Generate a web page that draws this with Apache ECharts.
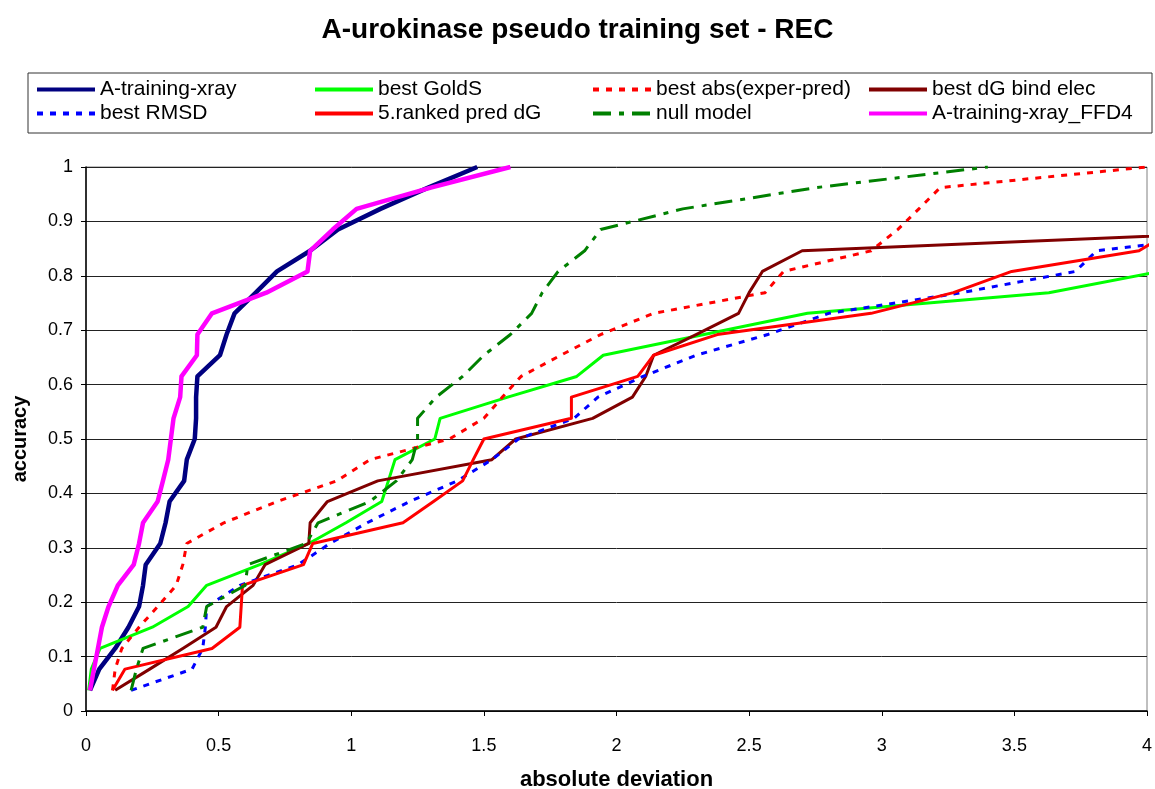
<!DOCTYPE html>
<html>
<head>
<meta charset="utf-8">
<title>A-urokinase pseudo training set - REC</title>
<script src="https://cdn.jsdelivr.net/npm/echarts@6/dist/echarts.min.js"></script>
<style>
  html, body { margin: 0; padding: 0; background: #ffffff; }
  #chart { width: 1155px; height: 789px; }
</style>
</head>
<body>
<div id="chart"></div>
<script>
// Cumulative accuracy levels (fraction of the 26 ligands), shared by every curve.
const ACCURACY = [0.038, 0.077, 0.115, 0.154, 0.192, 0.231, 0.269, 0.308, 0.346, 0.385,
                  0.423, 0.462, 0.5, 0.538, 0.577, 0.615, 0.654, 0.692, 0.731, 0.769,
                  0.808, 0.846, 0.885, 0.923, 0.962, 1.0];

// Absolute deviation reached at each accuracy level, one list per method.
const xrayDev   = [0.015, 0.05, 0.11, 0.16, 0.2, 0.215, 0.225, 0.28, 0.30, 0.315, 0.37, 0.38, 0.41,
                   0.415, 0.415, 0.42, 0.505, 0.53, 0.56, 0.64, 0.72, 0.845, 0.95, 1.11, 1.29, 1.475];
const goldsDev  = [0.01, 0.02, 0.053, 0.25, 0.385, 0.455, 0.655, 0.84, 0.98, 1.115, 1.14, 1.165,
                   1.315, 1.335, 1.59, 1.85, 1.95, 2.33, 2.72, 3.63, 4.05];
const absDev    = [0.1, 0.11, 0.135, 0.2, 0.27, 0.34, 0.365, 0.38, 0.52, 0.72, 0.945, 1.07, 1.37,
                   1.5, 1.57, 1.64, 1.79, 1.94, 2.14, 2.56, 2.63, 2.96, 3.06, 3.14, 3.22, 4.0];
const elecDev   = [0.11, 0.24, 0.365, 0.49, 0.53, 0.63, 0.675, 0.84, 0.845, 0.91, 1.1, 1.53, 1.62,
                   1.91, 2.06, 2.11, 2.14, 2.3, 2.46, 2.5, 2.55, 2.7, 4.6];
const rmsdDev   = [0.17, 0.4, 0.44, 0.45, 0.455, 0.58, 0.8, 0.92, 1.06, 1.22, 1.4, 1.53, 1.63,
                   1.84, 1.93, 2.1, 2.3, 2.57, 2.8, 3.3, 3.73, 3.81, 4.5];
const rankedDev = [0.1, 0.147, 0.475, 0.58, 0.585, 0.59, 0.82, 0.855, 1.195, 1.31, 1.42, 1.46, 1.5,
                   1.83, 1.83, 2.08, 2.14, 2.38, 2.96, 3.27, 3.49, 3.97, 4.1];
const nullDev   = [0.17, 0.19, 0.215, 0.44, 0.455, 0.6, 0.61, 0.83, 0.875, 1.07, 1.17, 1.23, 1.25,
                   1.25, 1.32, 1.42, 1.5, 1.6, 1.68, 1.72, 1.78, 1.88, 1.94, 2.25, 2.75, 3.4];
const ffd4Dev   = [0.015, 0.03, 0.045, 0.06, 0.085, 0.12, 0.18, 0.2, 0.215, 0.27, 0.29, 0.31, 0.32,
                   0.33, 0.355, 0.36, 0.418, 0.42, 0.475, 0.68, 0.835, 0.845, 0.93, 1.02, 1.30, 1.6];

const X_TICKS_MAX = 4;

function pairs(devs) {
  return devs.map((d, i) => [d, ACCURACY[i]]);
}

const FONT = '"Liberation Sans", Arial, sans-serif';

const seriesDefs = [
  { name: 'A-training-xray',       data: xrayDev,   color: '#000080', width: 4.5, type: 'solid' },
  { name: 'best GoldS',            data: goldsDev,  color: '#00ff00', width: 3,   type: 'solid' },
  { name: 'best abs(exper-pred)',  data: absDev,    color: '#ff0000', width: 3,   type: [6, 7] },
  { name: 'best dG bind elec',     data: elecDev,   color: '#800000', width: 3,   type: 'solid' },
  { name: 'best RMSD',             data: rmsdDev,   color: '#0000ff', width: 3,   type: [6, 7] },
  { name: '5.ranked pred dG',      data: rankedDev, color: '#ff0000', width: 3,   type: 'solid' },
  { name: 'null model',            data: nullDev,   color: '#008000', width: 3,   type: [18, 8, 5, 8] },
  { name: 'A-training-xray_FFD4',  data: ffd4Dev,   color: '#ff00ff', width: 4.5, type: 'solid' }
];

// Legend is laid out as four columns of two entries each.
const legendColumns = [
  { left: 35,  names: ['A-training-xray', 'best RMSD'] },
  { left: 313, names: ['best GoldS', '5.ranked pred dG'] },
  { left: 591, names: ['best abs(exper-pred)', 'null model'] },
  { left: 867, names: ['best dG bind elec', 'A-training-xray_FFD4'] }
];

const chart = echarts.init(document.getElementById('chart'));

chart.setOption({
  backgroundColor: '#ffffff',
  animation: false,
  title: {
    text: 'A-urokinase pseudo training set - REC',
    left: 'center',
    top: 16,
    padding: 0,
    textStyle: { fontFamily: FONT, fontSize: 28, fontWeight: 'bold', color: '#000' }
  },
  graphic: [{
    type: 'rect',
    shape: { x: 28, y: 73, width: 1124, height: 60 },
    style: { fill: '#ffffff', stroke: '#333333', lineWidth: 1 },
    z: 0
  }],
  legend: legendColumns.map(col => ({
    orient: 'vertical',
    left: col.left,
    top: 79,
    padding: 0,
    itemGap: 3,
    itemWidth: 58,
    itemHeight: 14,
    data: col.names,
    itemStyle: { opacity: 0 },
    lineStyle: { width: 4 },
    textStyle: { fontFamily: FONT, fontSize: 21, color: '#000' }
  })),
  grid: {
    left: 86, right: 8, top: 167, bottom: 78,
    outerBoundsMode: 'none',
    show: true, borderColor: '#808080', borderWidth: 1
  },
  xAxis: {
    type: 'value',
    min: 0, max: X_TICKS_MAX, interval: 0.5,
    name: 'absolute deviation',
    nameLocation: 'middle',
    nameGap: 58,
    nameTextStyle: { fontFamily: FONT, fontSize: 22, fontWeight: 'bold', color: '#000' },
    axisLine: { lineStyle: { color: '#000', width: 1.5 } },
    axisTick: { show: true, inside: false, length: 5, lineStyle: { color: '#000' } },
    axisLabel: { fontFamily: FONT, fontSize: 18, color: '#000', margin: 26 },
    splitLine: { show: false }
  },
  yAxis: {
    type: 'value',
    min: 0, max: 1, interval: 0.1,
    name: 'accuracy',
    nameLocation: 'middle',
    nameGap: 56,
    nameRotate: 90,
    nameTextStyle: { fontFamily: FONT, fontSize: 20, fontWeight: 'bold', color: '#000' },
    axisLine: { show: true, lineStyle: { color: '#000', width: 1.5 } },
    axisTick: { show: true, inside: false, length: 5, lineStyle: { color: '#000' } },
    axisLabel: { fontFamily: FONT, fontSize: 18, color: '#000', margin: 13 },
    splitLine: { show: true, lineStyle: { color: '#222', width: 1 } }
  },
  series: seriesDefs.map(s => ({
    name: s.name,
    type: 'line',
    data: pairs(s.data),
    color: s.color,
    showSymbol: false,
    symbol: 'none',
    clip: true,
    lineStyle: { color: s.color, width: s.width, type: s.type, cap: 'butt', join: 'round' }
  }))
});
</script>
</body>
</html>
